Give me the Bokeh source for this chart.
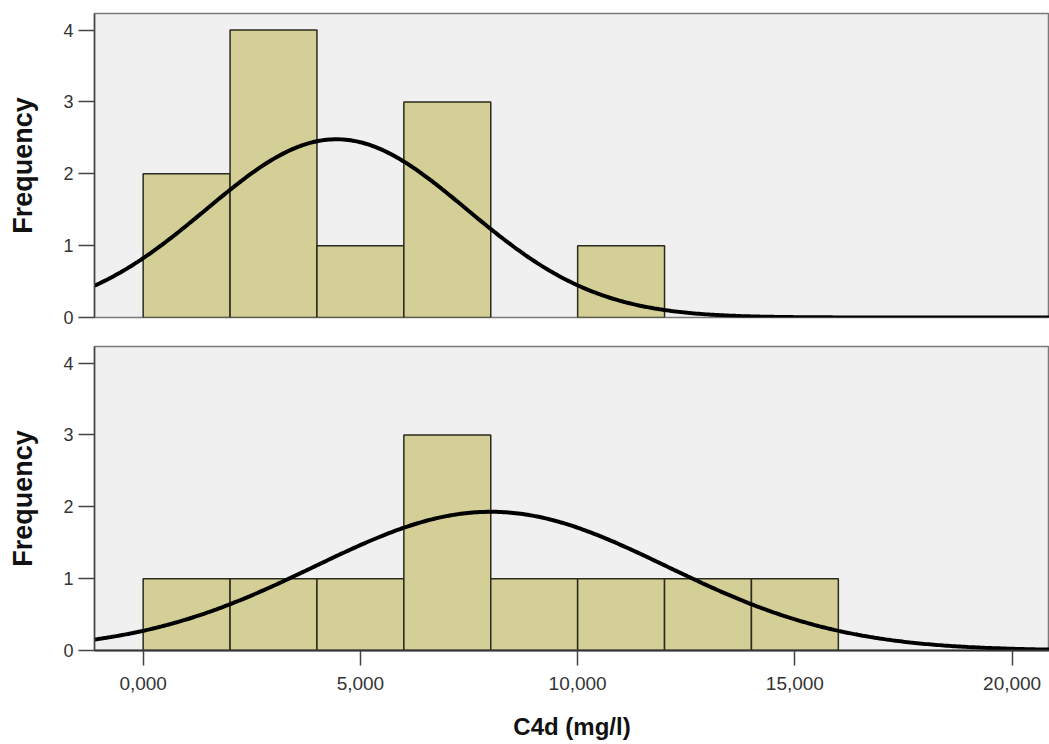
import numpy as np
from bokeh.plotting import figure
from bokeh.layouts import column
from bokeh.models import FixedTicker, Range1d, ColumnDataSource
from bokeh.embed import file_html
from bokeh.resources import INLINE

# ---- data ----
bin_left = [0, 2, 4, 6, 8, 10, 12, 14]
bin_width = 2
top_counts = [2, 4, 1, 3, 0, 1, 0, 0]
bottom_counts = [1, 1, 1, 3, 1, 1, 1, 1]

# fitted normal curves (mean, sd, peak height in frequency units)
top_curve_mean, top_curve_sd, top_curve_peak = 4.45, 3.0, 2.48
bot_curve_mean, bot_curve_sd, bot_curve_peak = 8.0, 4.05, 1.93

x_ticks = [0, 5, 10, 15, 20]
x_tick_labels = ["0,000", "5,000", "10,000", "15,000", "20,000"]
y_ticks = [0, 1, 2, 3, 4]

x_label = "C4d (mg/l)"
y_label = "Frequency"

X_START, X_END = -1.12, 20.86
Y_END = 4.23

BG = "#f0f0f0"
BAR = "#d3cf97"
FONT = "Liberation Sans"


def make_panel(counts, mean, sd, peak, show_x, top_border, bottom_border):
    p = figure(
        frame_width=955, frame_height=304,
        x_range=Range1d(X_START, X_END), y_range=Range1d(0, Y_END),
        output_backend="svg", toolbar_location=None,
        min_border_left=94, min_border_right=0,
        min_border_top=top_border, min_border_bottom=bottom_border,
        background_fill_color=BG, border_fill_color="white",
    )
    p.outline_line_color = "#7a7a7a"
    p.outline_line_width = 1.5
    p.grid.visible = False

    left = [l for l, c in zip(bin_left, counts) if c > 0]
    tops = [c for c in counts if c > 0]
    src = ColumnDataSource(dict(left=left, right=[l + bin_width for l in left], top=tops))
    p.quad(left="left", right="right", bottom=0, top="top", source=src,
           fill_color=BAR, line_color="#2a2a1e", line_width=1.5)

    xs = np.linspace(X_START, X_END, 400)
    ys = peak * np.exp(-0.5 * ((xs - mean) / sd) ** 2)
    p.line(xs, ys, line_color="black", line_width=4)

    ya = p.yaxis[0]
    ya.ticker = FixedTicker(ticks=y_ticks)
    ya.axis_label = y_label
    ya.axis_label_text_font = FONT
    ya.axis_label_text_font_style = "bold"
    ya.axis_label_text_font_size = "27px"
    ya.axis_label_text_color = "#111111"
    ya.axis_label_standoff = 22
    ya.major_label_text_font = FONT
    ya.major_label_text_font_size = "18px"
    ya.major_label_text_color = "#333333"
    ya.major_label_standoff = 5
    ya.major_tick_out = 16
    ya.major_tick_in = 0
    ya.minor_tick_line_color = None
    ya.major_tick_line_color = "#444444"
    ya.major_tick_line_width = 1.5
    ya.axis_line_color = "#444444"
    ya.axis_line_width = 1.5

    xa = p.xaxis[0]
    if show_x:
        xa.ticker = FixedTicker(ticks=x_ticks)
        xa.major_label_overrides = {t: s for t, s in zip(x_ticks, x_tick_labels)}
        xa.axis_label = x_label
        xa.axis_label_text_font = FONT
        xa.axis_label_text_font_style = "bold"
        xa.axis_label_text_font_size = "24px"
        xa.axis_label_text_color = "#111111"
        xa.axis_label_standoff = 20
        xa.major_label_text_font = FONT
        xa.major_label_text_font_size = "19px"
        xa.major_label_text_color = "#333333"
        xa.major_label_standoff = 11
        xa.major_tick_out = 15
        xa.major_tick_in = 0
        xa.minor_tick_line_color = None
        xa.major_tick_line_color = "#444444"
        xa.major_tick_line_width = 1.5
        xa.axis_line_color = "#333333"
        xa.axis_line_width = 2
    else:
        xa.visible = False
    return p


p1 = make_panel(top_counts, top_curve_mean, top_curve_sd, top_curve_peak,
                show_x=False, top_border=13, bottom_border=14)
p2 = make_panel(bottom_counts, bot_curve_mean, bot_curve_sd, bot_curve_peak,
                show_x=True, top_border=15, bottom_border=10)

layout = column(p1, p2, spacing=0)
open("out.html", "w").write(file_html(layout, INLINE))
